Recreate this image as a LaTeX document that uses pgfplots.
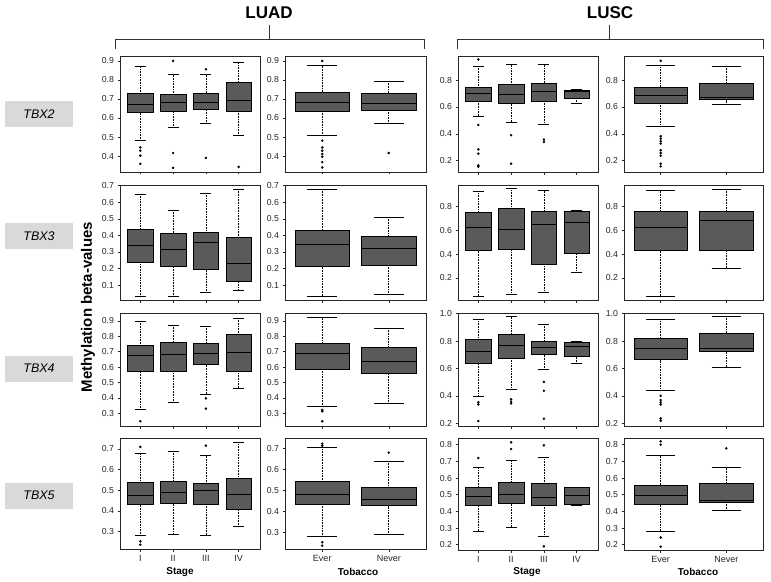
\documentclass[border=0pt]{standalone}
\usepackage{fontspec}
\setmainfont{Liberation Sans}
\usepackage{pgfplots}
\pgfplotsset{compat=1.18}
\usepgfplotslibrary{statistics}
\definecolor{boxgray}{HTML}{5A5A5A}

\pgfplotsset{
  boxplot/every box/.style={fill=boxgray, draw=black, line width=0.6pt},
  boxplot/every median/.style={draw=black, line width=0.9pt},
  boxplot/draw/lower whisker/.code={%
    \draw[black, densely dotted, line width=0.6pt]
      (boxplot cs:\pgfplotsboxplotvalue{lower whisker}) --
      (boxplot cs:\pgfplotsboxplotvalue{lower quartile});
    \draw[black, line width=0.6pt]
      (boxplot whisker cs:\pgfplotsboxplotvalue{lower whisker},0) --
      (boxplot whisker cs:\pgfplotsboxplotvalue{lower whisker},1);
  },
  boxplot/draw/upper whisker/.code={%
    \draw[black, densely dotted, line width=0.6pt]
      (boxplot cs:\pgfplotsboxplotvalue{upper whisker}) --
      (boxplot cs:\pgfplotsboxplotvalue{upper quartile});
    \draw[black, line width=0.6pt]
      (boxplot whisker cs:\pgfplotsboxplotvalue{upper whisker},0) --
      (boxplot whisker cs:\pgfplotsboxplotvalue{upper whisker},1);
  },
  base/.style={scale only axis, anchor=north west, tick pos=left, tick align=outside,
    major tick length=2.5pt,
    axis line style={black!85, line width=0.6pt},
    tick style={black!85, line width=0.5pt},
    ticklabel style={font=\fontsize{8.7}{10}\selectfont, text=black!85},
    /pgf/number format/assume math mode=true,
    y tick label style={/pgf/number format/fixed, /pgf/number format/fixed zerofill, /pgf/number format/precision=1},
    xticklabels={}, boxplot/draw direction=y},
  stage/.style={base, width=140pt, xmin=0.38, xmax=4.65, xtick={1,2,3,4},
    boxplot/box extend=0.78, boxplot/whisker extend=0.33},
  tob/.style={base, width=141pt, xmin=0.44, xmax=2.56, xtick={1,2},
    boxplot/box extend=0.82, boxplot/whisker extend=0.45},
  bxs/.style={mark=*, mark size=1.05pt, mark options={black, fill=black, solid}, draw=black},
  lastrow/.style={x tick label style={font=\fontsize{9}{10}\selectfont, text=black!85}},
}
\newcommand{\bx}[7]{\addplot[bxs, boxplot prepared={draw position=#1, lower whisker=#2, lower quartile=#3, median=#4, upper quartile=#5, upper whisker=#6}] coordinates {#7};}

\begin{document}
\begin{tikzpicture}
\path[use as bounding box] (0,0) rectangle (771pt,-581pt);

% titles and brackets
\node[font=\fontsize{17}{19}\selectfont\bfseries] at (269pt,-12.5pt) {LUAD};
\node[font=\fontsize{17}{19}\selectfont\bfseries] at (610pt,-12.5pt) {LUSC};
\draw[line width=0.7pt, black!80] (115pt,-49pt) -- (115pt,-39pt) -- (424pt,-39pt) -- (424pt,-49pt);
\draw[line width=0.7pt, black!80] (269pt,-39pt) -- (269pt,-25pt);
\draw[line width=0.7pt, black!80] (457pt,-49pt) -- (457pt,-39pt) -- (763pt,-39pt) -- (763pt,-49pt);
\draw[line width=0.7pt, black!80] (609pt,-39pt) -- (609pt,-25pt);

% row labels
\foreach \yy/\lab in {114/TBX2, 236/TBX3, 368.5/TBX4, 495.5/TBX5}{
  \node[fill=gray!30, minimum width=68pt, minimum height=26pt, inner sep=0pt,
        font=\fontsize{12.5}{14}\selectfont\itshape] at (39pt,-\yy pt) {\lab};
}
\node[rotate=90, font=\fontsize{15}{17}\selectfont\bfseries] at (88pt,-307pt) {Methylation beta-values};

% x labels
\node[font=\fontsize{10}{12}\selectfont\bfseries] at (180pt,-572pt) {Stage};
\node[font=\fontsize{10}{12}\selectfont\bfseries] at (358pt,-572pt) {Tobacco};
\node[font=\fontsize{10}{12}\selectfont\bfseries] at (527pt,-572pt) {Stage};
\node[font=\fontsize{10}{12}\selectfont\bfseries] at (698pt,-572pt) {Tobacco};

%================ ROW 1: TBX2
\begin{axis}[stage, at={(120pt,-56pt)}, height=116pt, ymin=0.316, ymax=0.926, ytick={0.4,0.5,0.6,0.7,0.8,0.9}]
\bx{1}{0.481}{0.631}{0.673}{0.731}{0.874}{(0,0.445) (0,0.428) (0,0.402) (0,0.359)}
\bx{2}{0.551}{0.636}{0.684}{0.725}{0.828}{(0,0.9) (0,0.416) (0,0.338)}
\bx{3}{0.570}{0.647}{0.684}{0.731}{0.828}{(0,0.856) (0,0.390)}
\bx{4}{0.507}{0.636}{0.690}{0.788}{0.895}{(0,0.343)}
\end{axis}
\begin{axis}[tob, at={(285pt,-56pt)}, height=116pt, ymin=0.316, ymax=0.926, ytick={0.4,0.5,0.6,0.7,0.8,0.9}]
\bx{1}{0.507}{0.635}{0.684}{0.734}{0.876}{(0,0.9) (0,0.481) (0,0.445) (0,0.428) (0,0.411) (0,0.396) (0,0.368) (0,0.340)}
\bx{2}{0.570}{0.640}{0.678}{0.729}{0.795}{(0,0.416)}
\end{axis}
\begin{axis}[stage, at={(458pt,-56pt)}, height=116pt, ymin=0.115, ymax=0.98, ytick={0.2,0.4,0.6,0.8}]
\bx{1}{0.533}{0.643}{0.700}{0.750}{0.905}{(0,0.954) (0,0.466) (0,0.284) (0,0.252) (0,0.165) (0,0.155)}
\bx{2}{0.489}{0.631}{0.695}{0.770}{0.915}{(0,0.389) (0,0.177)}
\bx{3}{0.471}{0.643}{0.713}{0.775}{0.915}{(0,0.357) (0,0.339)}
\bx{4}{0.626}{0.668}{0.715}{0.723}{0.733}{}
\end{axis}
\begin{axis}[tob, width=139pt, at={(624pt,-56pt)}, height=116pt, ymin=0.115, ymax=0.98, ytick={0.2,0.4,0.6,0.8}]
\bx{1}{0.456}{0.631}{0.688}{0.750}{0.910}{(0,0.944) (0,0.382) (0,0.364) (0,0.344) (0,0.327) (0,0.277) (0,0.257) (0,0.237) (0,0.177) (0,0.157)}
\bx{2}{0.618}{0.655}{0.670}{0.775}{0.905}{}
\end{axis}

%================ ROW 2: TBX3
\begin{axis}[stage, at={(120pt,-185pt)}, height=115pt, ymin=0.010, ymax=0.704, ytick={0.1,0.2,0.3,0.4,0.5,0.6,0.7}]
\bx{1}{0.030}{0.239}{0.338}{0.436}{0.648}{}
\bx{2}{0.030}{0.211}{0.316}{0.412}{0.553}{}
\bx{3}{0.056}{0.193}{0.358}{0.418}{0.654}{}
\bx{4}{0.066}{0.121}{0.231}{0.388}{0.680}{}
\end{axis}
\begin{axis}[tob, at={(285pt,-185pt)}, height=115pt, ymin=0.010, ymax=0.704, ytick={0.1,0.2,0.3,0.4,0.5,0.6,0.7}]
\bx{1}{0.034}{0.211}{0.346}{0.428}{0.680}{}
\bx{2}{0.044}{0.217}{0.322}{0.396}{0.511}{}
\end{axis}
\begin{axis}[stage, at={(458pt,-185pt)}, height=115pt, ymin=0.015, ymax=0.982, ytick={0.2,0.4,0.6,0.8}]
\bx{1}{0.049}{0.430}{0.626}{0.750}{0.929}{}
\bx{2}{0.063}{0.441}{0.612}{0.786}{0.954}{}
\bx{3}{0.080}{0.318}{0.651}{0.764}{0.935}{}
\bx{4}{0.248}{0.408}{0.665}{0.764}{0.772}{}
\end{axis}
\begin{axis}[tob, width=139pt, at={(624pt,-185pt)}, height=115pt, ymin=0.015, ymax=0.982, ytick={0.2,0.4,0.6,0.8}]
\bx{1}{0.049}{0.436}{0.626}{0.758}{0.935}{}
\bx{2}{0.284}{0.430}{0.682}{0.764}{0.949}{}
\end{axis}

%================ ROW 3: TBX4
\begin{axis}[stage, at={(120pt,-313pt)}, height=113pt, ymin=0.217, ymax=0.952, ytick={0.3,0.4,0.5,0.6,0.7,0.8,0.9}]
\bx{1}{0.325}{0.572}{0.675}{0.744}{0.900}{(0,0.248)}
\bx{2}{0.371}{0.576}{0.684}{0.760}{0.874}{}
\bx{3}{0.425}{0.617}{0.690}{0.757}{0.868}{(0,0.397) (0,0.330)}
\bx{4}{0.464}{0.576}{0.695}{0.811}{0.919}{}
\end{axis}
\begin{axis}[tob, at={(285pt,-313pt)}, height=113pt, ymin=0.217, ymax=0.952, ytick={0.3,0.4,0.5,0.6,0.7,0.8,0.9}]
\bx{1}{0.343}{0.589}{0.690}{0.757}{0.922}{(0,0.321) (0,0.313) (0,0.248)}
\bx{2}{0.364}{0.557}{0.636}{0.727}{0.855}{}
\end{axis}
\begin{axis}[stage, at={(458pt,-313pt)}, height=113pt, ymin=0.181, ymax=1.005, ytick={0.2,0.4,0.6,0.8,1.0}]
\bx{1}{0.394}{0.641}{0.728}{0.813}{0.959}{(0,0.353) (0,0.338) (0,0.217)}
\bx{2}{0.450}{0.678}{0.765}{0.847}{0.978}{(0,0.375) (0,0.358) (0,0.345)}
\bx{3}{0.593}{0.704}{0.753}{0.801}{0.925}{(0,0.503) (0,0.438) (0,0.234)}
\bx{4}{0.636}{0.690}{0.762}{0.794}{0.801}{}
\end{axis}
\begin{axis}[tob, width=139pt, at={(624pt,-313pt)}, height=113pt, ymin=0.181, ymax=1.005, ytick={0.2,0.4,0.6,0.8,1.0}]
\bx{1}{0.442}{0.665}{0.743}{0.818}{0.959}{(0,0.401) (0,0.370) (0,0.353) (0,0.338) (0,0.236) (0,0.219)}
\bx{2}{0.612}{0.724}{0.748}{0.859}{0.981}{}
\end{axis}

%================ ROW 4: TBX5
\begin{axis}[stage, lastrow, at={(120pt,-438pt)}, height=111pt, ymin=0.216, ymax=0.753, ytick={0.3,0.4,0.5,0.6,0.7}, xticklabels={I,II,III,IV}]
\bx{1}{0.281}{0.434}{0.474}{0.540}{0.681}{(0,0.710) (0,0.253) (0,0.237)}
\bx{2}{0.285}{0.437}{0.492}{0.544}{0.689}{}
\bx{3}{0.284}{0.432}{0.497}{0.535}{0.668}{(0,0.716)}
\bx{4}{0.324}{0.406}{0.482}{0.560}{0.732}{}
\end{axis}
\begin{axis}[tob, lastrow, at={(285pt,-438pt)}, height=111pt, ymin=0.220, ymax=0.751, ytick={0.3,0.4,0.5,0.6,0.7}, xticklabels={Ever,Never}]
\bx{1}{0.279}{0.435}{0.483}{0.544}{0.706}{(0,0.724) (0,0.714) (0,0.252) (0,0.236)}
\bx{2}{0.289}{0.427}{0.459}{0.517}{0.641}{(0,0.681)}
\end{axis}
\begin{axis}[stage, lastrow, at={(458pt,-438pt)}, height=112pt, ymin=0.168, ymax=0.84, ytick={0.2,0.3,0.4,0.5,0.6,0.7,0.8}, xticklabels={I,II,III,IV}]
\bx{1}{0.283}{0.438}{0.490}{0.546}{0.667}{(0,0.720)}
\bx{2}{0.307}{0.450}{0.502}{0.577}{0.709}{(0,0.814) (0,0.774)}
\bx{3}{0.251}{0.436}{0.482}{0.571}{0.724}{(0,0.796) (0,0.190)}
\bx{4}{0.434}{0.444}{0.498}{0.542}{0.546}{}
\end{axis}
\begin{axis}[tob, lastrow, width=139pt, at={(624pt,-438pt)}, height=112pt, ymin=0.168, ymax=0.84, ytick={0.2,0.3,0.4,0.5,0.6,0.7,0.8}, xticklabels={Ever,Never}]
\bx{1}{0.283}{0.442}{0.496}{0.557}{0.734}{(0,0.820) (0,0.800) (0,0.243) (0,0.188)}
\bx{2}{0.404}{0.452}{0.468}{0.571}{0.663}{(0,0.778)}
\end{axis}
\end{tikzpicture}
\end{document}
